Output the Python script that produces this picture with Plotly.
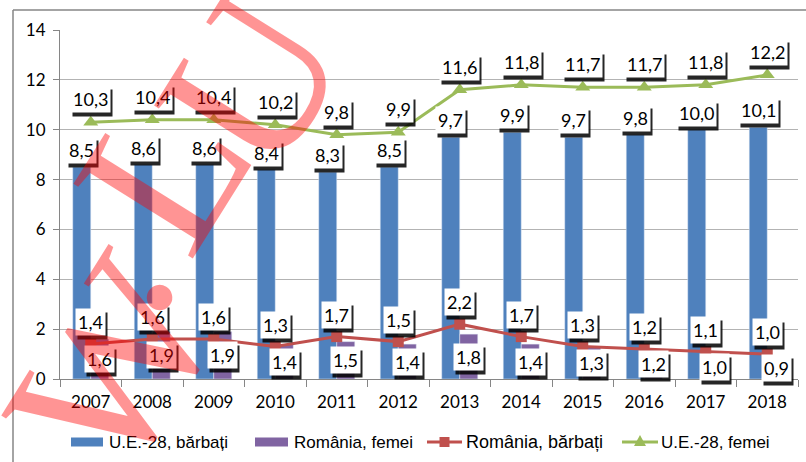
import plotly.graph_objects as go

years = ["2007", "2008", "2009", "2010", "2011", "2012", "2013", "2014", "2015", "2016", "2017", "2018"]
ue_barbati = [8.5, 8.6, 8.6, 8.4, 8.3, 8.5, 9.7, 9.9, 9.7, 9.8, 10.0, 10.1]
ro_femei = [1.6, 1.9, 1.9, 1.4, 1.5, 1.4, 1.8, 1.4, 1.3, 1.2, 1.0, 0.9]
ro_barbati = [1.4, 1.6, 1.6, 1.3, 1.7, 1.5, 2.2, 1.7, 1.3, 1.2, 1.1, 1.0]
ue_femei = [10.3, 10.4, 10.4, 10.2, 9.8, 9.9, 11.6, 11.8, 11.7, 11.7, 11.8, 12.2]
y_ticks = [0, 2, 4, 6, 8, 10, 12, 14]
series_names = ["U.E.-28, bărbați", "România, femei", "România, bărbați", "U.E.-28, femei"]

BLUE = "#4F81BD"
PURPLE = "#8064A2"
RED = "#C0504D"
GREEN = "#9BBB59"
BARGAP = 0.414
half = (1 - BARGAP) / 4.0

W_, H_ = 806, 462
ML, MR, MT, MB = 60, 8, 30, 83
PW, PH = W_ - ML - MR, H_ - MT - MB

def px(xp):
    return (xp - ML) / PW

def py(yp):
    return (H_ - MB - yp) / PH

def fmt(v):
    return f"{v:.1f}".replace(".", ",")

fig = go.Figure()
fig.add_trace(go.Bar(x=years, y=ue_barbati, marker_color=BLUE, name=series_names[0], showlegend=False))
fig.add_trace(go.Bar(x=years, y=ro_femei, marker_color=PURPLE, name=series_names[1], showlegend=False))
fig.add_trace(go.Scatter(x=years, y=ro_barbati, mode="lines+markers", name=series_names[2], showlegend=False,
                         line=dict(color=RED, width=3),
                         marker=dict(symbol="square", size=11, color=RED)))
fig.add_trace(go.Scatter(x=years, y=ue_femei, mode="lines+markers", name=series_names[3], showlegend=False,
                         line=dict(color=GREEN, width=3),
                         marker=dict(symbol="triangle-up", size=13, color=GREEN)))

LFONT = "Lato, Open Sans, sans-serif"
annotations = []
shapes = []

def add_label(xv, yv, text, yshift):
    common = dict(x=xv, y=yv, xref="x", yref="y", text=text, showarrow=False,
                  xanchor="center", yanchor="middle", borderpad=2)
    annotations.append(dict(common, xshift=2, yshift=yshift - 4,
                            bgcolor="rgba(0,0,0,0.85)", font=dict(family=LFONT, size=18, color="black")))
    annotations.append(dict(common, yshift=yshift, bgcolor="white",
                            font=dict(family=LFONT, size=18, color="black")))

for i in range(len(years)):
    add_label(i - half, ue_barbati[i], fmt(ue_barbati[i]), 17)
    add_label(i + half, ro_femei[i] / 2.0, fmt(ro_femei[i]), 0)
    add_label(i, ro_barbati[i], fmt(ro_barbati[i]), 22)
    add_label(i, ue_femei[i], fmt(ue_femei[i]), 23)

# manual legend (Excel-like wide swatches)
LEG_Y = 442
LEG_FONT = "Liberation Sans, Arial, sans-serif"
for (x0, x1), col in [((71, 103), BLUE), ((255, 288), PURPLE)]:
    shapes.append(dict(type="rect", xref="paper", yref="paper", x0=px(x0), x1=px(x1),
                       y0=py(LEG_Y + 4.5), y1=py(LEG_Y - 4.5), fillcolor=col, line=dict(width=0)))
for (x0, x1), col in [((427, 462), RED), ((622, 658), GREEN)]:
    shapes.append(dict(type="line", xref="paper", yref="paper", x0=px(x0), x1=px(x1),
                       y0=py(LEG_Y), y1=py(LEG_Y), line=dict(color=col, width=3)))
shapes.append(dict(type="rect", xref="paper", yref="paper", x0=px(439.5), x1=px(449.5),
                   y0=py(LEG_Y + 5), y1=py(LEG_Y - 5), fillcolor=RED, line=dict(width=0)))
tx, ty = 640, LEG_Y
shapes.append(dict(type="path", xref="paper", yref="paper",
                   path=f"M {px(tx-6)} {py(ty+4)} L {px(tx+6)} {py(ty+4)} L {px(tx)} {py(ty-7)} Z",
                   fillcolor=GREEN, line=dict(width=0)))
for name, xl, fs in zip(series_names, [107, 292, 464, 659], [17, 17, 18, 17]):
    annotations.append(dict(x=px(xl), y=py(LEG_Y), xref="paper", yref="paper", text=name,
                            showarrow=False, xanchor="left", yanchor="middle",
                            font=dict(family=LEG_FONT, size=fs, color="black")))

# watermark letters
WM = "rgba(255,0,0,0.42)"
for ch, (xp, yp) in [("W", (112, 366)), (".", (106, 264)), ("L", (162, 170)), ("U", (250, 80))]:
    annotations.append(dict(x=px(xp), y=py(yp), xref="paper", yref="paper", text=ch, showarrow=False,
                            xanchor="center", yanchor="middle",
                            textangle=-58, font=dict(family="Liberation Serif", size=215, color=WM)))

shapes += [
    dict(type="line", xref="paper", yref="paper", x0=px(13), x1=px(806),
         y0=py(10), y1=py(10), line=dict(color="#868686", width=1.5)),
    dict(type="line", xref="paper", yref="paper", x0=px(13), x1=px(13),
         y0=py(10), y1=py(462), line=dict(color="#868686", width=1.5)),
]

fig.update_layout(
    width=W_, height=H_,
    margin=dict(l=ML, r=MR, t=MT, b=MB),
    paper_bgcolor="white", plot_bgcolor="white",
    barmode="group", bargap=BARGAP, bargroupgap=0,
    showlegend=False,
    font=dict(family=LFONT, size=16, color="black"),
    xaxis=dict(type="category", range=[-0.5, len(years) - 0.5], autorange=False,
               showline=True, linecolor="#868686", linewidth=1,
               ticks="outside", tickson="boundaries", ticklen=7, tickcolor="#868686",
               ticklabelstandoff=8,
               showgrid=False, tickfont=dict(family=LFONT, size=17, color="black")),
    yaxis=dict(range=[0, 14], autorange=False, tickvals=y_ticks, showline=True, linecolor="#868686", linewidth=1,
               ticks="outside", ticklen=6, tickcolor="#868686", ticklabelstandoff=4,
               showgrid=True, gridcolor="#B3B3B3", gridwidth=1, zeroline=False,
               tickfont=dict(family=LFONT, size=17, color="black")),
    annotations=annotations,
    shapes=shapes,
)

fig.write_html("out.html", config={"displayModeBar": False},
               post_script="document.body.style.margin='0';document.body.style.overflow='hidden';")
